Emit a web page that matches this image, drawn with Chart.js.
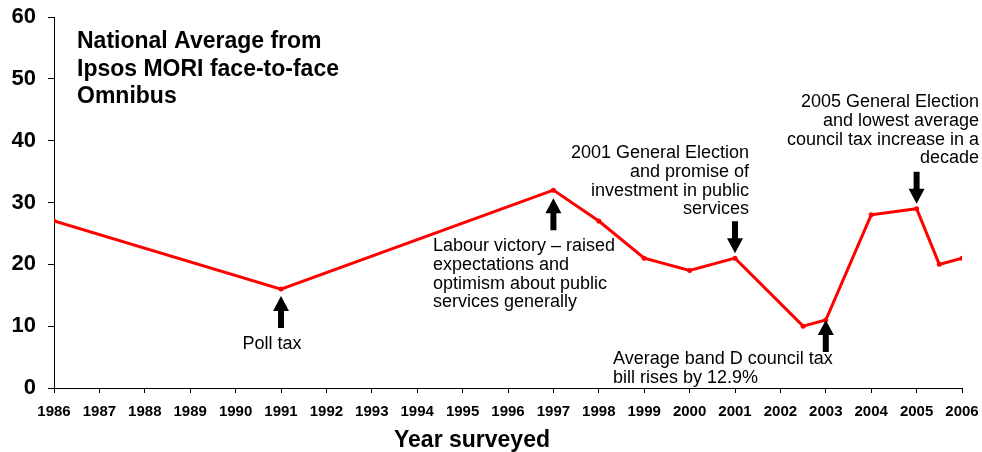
<!DOCTYPE html>
<html>
<head>
<meta charset="utf-8">
<script src="https://cdn.jsdelivr.net/npm/chart.js@4.4.1/dist/chart.umd.min.js"></script>
<style>
  html, body { margin: 0; padding: 0; background: #fff; }
  #wrap { width: 982px; height: 452px; position: relative; }
</style>
</head>
<body>
<div id="wrap"><canvas id="chart"></canvas></div>
<script>
// Survey years (mid-year readings at .5) and the national average score
const years = [1986, 1991, 1997, 1998, 1999, 2000, 2001, 2002.5, 2003, 2004, 2005, 2005.5, 2006];
const values = [27, 16, 32, 27, 21, 19, 21, 10, 11, 28, 29, 20, 21];

const yTicks = [0, 10, 20, 30, 40, 50, 60];
const titleLines = ['National Average from', 'Ipsos MORI face-to-face', 'Omnibus'];
const xAxisTitle = 'Year surveyed';

// Event notes: year, value the arrow points to, arrow direction, gap to the point
const events = [
  { year: 1991, value: 16, dir: 'up', gap: 7 },
  { year: 1997, value: 32, dir: 'up', gap: 8 },
  { year: 2001, value: 21, dir: 'down', gap: 5 },
  { year: 2003, value: 11, dir: 'up', gap: 0 },
  { year: 2005, value: 29, dir: 'down', gap: 5 },
];

const notes = [
  { lines: ['Poll tax'], x: 272, y: 344, align: 'center' },
  { lines: ['Labour victory \u2013 raised', 'expectations and', 'optimism about public', 'services generally'], x: 433, y: 246, align: 'left' },
  { lines: ['2001 General Election', 'and promise of', 'investment in public', 'services'], x: 749, y: 153, align: 'right' },
  { lines: ['Average band D council tax', 'bill rises by 12.9%'], x: 613, y: 359, align: 'left' },
  { lines: ['2005 General Election', 'and lowest average', 'council tax increase in a', 'decade'], x: 979, y: 102, align: 'right' },
];

const FONT = "'Liberation Sans', Arial, sans-serif";

function drawArrow(ctx, x, tipY, dir) {
  const len = 32, head = 15, headW = 16, shaft = 6;
  const s = dir === 'up' ? 1 : -1;
  ctx.beginPath();
  ctx.moveTo(x, tipY);
  ctx.lineTo(x + headW / 2, tipY + s * head);
  ctx.lineTo(x + shaft / 2, tipY + s * head);
  ctx.lineTo(x + shaft / 2, tipY + s * len);
  ctx.lineTo(x - shaft / 2, tipY + s * len);
  ctx.lineTo(x - shaft / 2, tipY + s * head);
  ctx.lineTo(x - headW / 2, tipY + s * head);
  ctx.closePath();
  ctx.fill();
}

const notesPlugin = {
  id: 'notes',
  afterDraw(chart) {
    const { ctx, scales: { x, y } } = chart;
    ctx.save();
    ctx.fillStyle = '#000';

    // title block
    ctx.font = 'bold 23px ' + FONT;
    ctx.textAlign = 'left';
    ctx.textBaseline = 'alphabetic';
    titleLines.forEach((t, i) => ctx.fillText(t, 77, 48 + i * 27.5));

    // x axis title
    ctx.textAlign = 'center';
    ctx.fillText(xAxisTitle, 472, 447);

    // arrows
    events.forEach(ev => {
      const px = x.getPixelForValue(ev.year);
      const py = y.getPixelForValue(ev.value);
      drawArrow(ctx, px, ev.dir === 'up' ? py + ev.gap : py - ev.gap, ev.dir);
    });

    // annotation text
    ctx.font = '18px ' + FONT;
    ctx.textBaseline = 'middle';
    notes.forEach(n => {
      ctx.textAlign = n.align;
      n.lines.forEach((l, i) => ctx.fillText(l, n.x, n.y + i * 18.8));
    });
    ctx.restore();
  }
};

new Chart(document.getElementById('chart'), {
  type: 'line',
  data: {
    datasets: [{
      data: years.map((yr, i) => ({ x: yr, y: values[i] })),
      borderColor: '#ff0000',
      backgroundColor: '#ff0000',
      borderWidth: 3,
      pointRadius: 2.5,
      pointBorderWidth: 0,
      tension: 0,
    }]
  },
  options: {
    responsive: true,
    maintainAspectRatio: false,
    animation: false,
    layout: { padding: 0 },
    plugins: { legend: { display: false }, tooltip: { enabled: false } },
    scales: {
      x: {
        type: 'linear',
        min: 1986,
        max: 2006,
        afterFit(scale) {
          scale.height = 64;
          scale.paddingRight = 20;
        },
        grid: { drawOnChartArea: false, tickLength: 5, color: '#000', tickColor: '#000' },
        border: { color: '#000', width: 1 },
        ticks: {
          stepSize: 1,
          autoSkip: false,
          maxRotation: 0,
          padding: 10,
          color: '#000',
          font: { family: FONT, size: 15, weight: 'bold' },
          callback: v => String(v),
        },
      },
      y: {
        min: 0,
        max: 60,
        afterFit(scale) {
          scale.width = 54;
          scale.paddingTop = 17;
        },
        afterBuildTicks(scale) { scale.ticks = yTicks.map(v => ({ value: v })); },
        grid: { drawOnChartArea: false, tickLength: 6, color: '#000', tickColor: '#000' },
        border: { color: '#000', width: 1 },
        ticks: {
          padding: 12,
          color: '#000',
          font: { family: FONT, size: 22, weight: 'bold' },
        },
      },
    },
  },
  plugins: [notesPlugin],
});
</script>
</body>
</html>
